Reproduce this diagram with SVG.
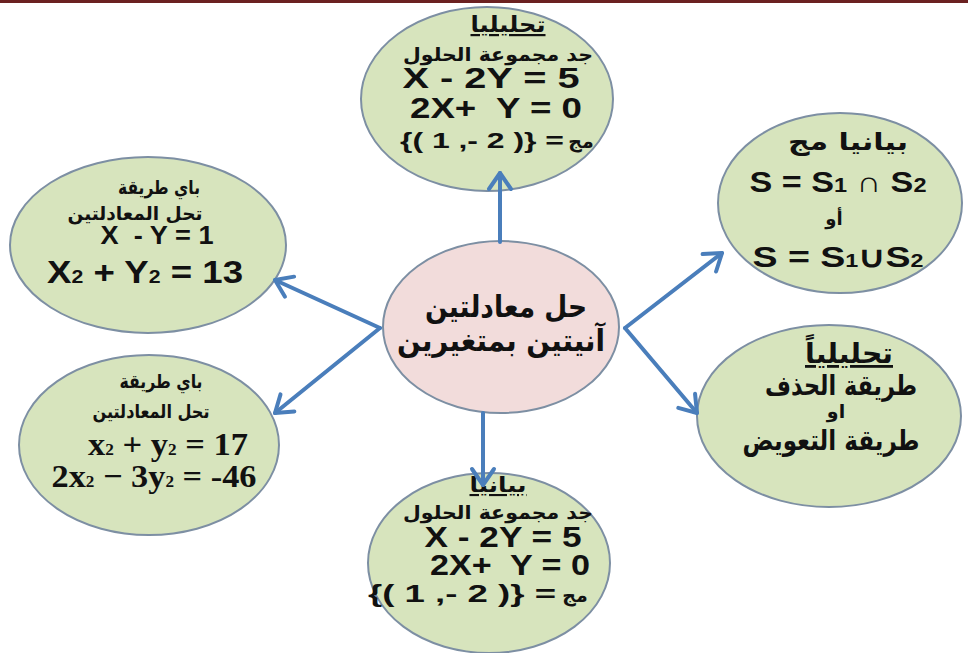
<svg xmlns="http://www.w3.org/2000/svg" width="968" height="653" viewBox="0 0 968 653">
<defs>
<style>
.g{fill:#d7e4bd;stroke:#7d8fa3;stroke-width:2}
.p{fill:#f2dcdb;stroke:#7d8fa3;stroke-width:2}
.ar{font-family:"DejaVu Sans",sans-serif;font-weight:bold;fill:#111;text-anchor:middle}
.la{font-family:"Liberation Sans",Arial,sans-serif;font-weight:bold;fill:#111;text-anchor:middle;direction:ltr}
.tm{font-family:"Liberation Serif","Times New Roman",serif;font-weight:bold;fill:#111;text-anchor:middle}
.u{text-decoration:underline}
.c{fill:none;stroke:#4a7ebb;stroke-width:4;stroke-linecap:round}
</style>
<marker id="ah" markerUnits="userSpaceOnUse" markerWidth="32" markerHeight="32" refX="21" refY="16" orient="auto">
<path d="M5,5 L21,16 L5,27" fill="none" stroke="#4a7ebb" stroke-width="4" stroke-linecap="round" stroke-linejoin="round"/>
</marker>
</defs>
<rect x="0" y="0" width="968" height="653" fill="#ffffff"/>
<rect x="0" y="0" width="968" height="3" fill="#6b2121"/>

<g id="node-top">
<ellipse class="g" cx="487" cy="99" rx="126" ry="92"/>
<text class="ar u" x="508" y="32" font-size="22" textLength="75" lengthAdjust="spacingAndGlyphs">تحليليا</text>
<text class="ar" x="498" y="61" font-size="19" textLength="190" lengthAdjust="spacingAndGlyphs">جد مجموعة الحلول</text>
<text class="la" x="491" y="88" font-size="30" textLength="177" lengthAdjust="spacingAndGlyphs">X - 2Y = 5</text>
<text class="la" x="496" y="118" font-size="30" textLength="172" lengthAdjust="spacingAndGlyphs">2X+&#160; Y = 0</text>
<text class="la" x="482" y="148" font-size="22" textLength="164" lengthAdjust="spacingAndGlyphs">{( 1 ,- 2 )} =</text>
<text class="ar" x="581" y="148" font-size="19">مج</text>
</g>

<g id="node-bottom">
<ellipse class="g" cx="489" cy="563" rx="121" ry="90"/>
<text class="ar u" x="498" y="492" font-size="21" textLength="57" lengthAdjust="spacingAndGlyphs">بيانيا</text>
<text class="ar" x="498" y="519" font-size="19" textLength="190" lengthAdjust="spacingAndGlyphs">جد مجموعة الحلول</text>
<text class="la" x="503" y="547" font-size="30" textLength="157" lengthAdjust="spacingAndGlyphs">X - 2Y = 5</text>
<text class="la" x="510" y="575" font-size="30" textLength="160" lengthAdjust="spacingAndGlyphs">2X+&#160; Y = 0</text>
<text class="la" x="462" y="602" font-size="24" textLength="188" lengthAdjust="spacingAndGlyphs">{( 1 ,- 2 )} =</text>
<text class="ar" x="575" y="602" font-size="19">مج</text>
</g>

<g id="node-right-top">
<ellipse class="g" cx="840" cy="203" rx="122" ry="90"/>
<text class="ar" x="848" y="150" font-size="24" textLength="120" lengthAdjust="spacingAndGlyphs">بيانيا مج</text>
<text class="la" x="838" y="192" font-size="29" textLength="177" lengthAdjust="spacingAndGlyphs">S = S<tspan font-size="20">1</tspan> ∩ S<tspan font-size="20">2</tspan></text>
<text class="ar" x="834" y="225" font-size="18">أو</text>
<text class="la" x="838" y="267" font-size="29" textLength="171" lengthAdjust="spacingAndGlyphs">S = S<tspan font-size="18">1</tspan>∪S<tspan font-size="18">2</tspan></text>
</g>

<g id="node-right-bottom">
<ellipse class="g" cx="829" cy="416" rx="132" ry="91"/>
<text class="ar u" x="849" y="363" font-size="28" textLength="88" lengthAdjust="spacingAndGlyphs">تحليلياً</text>
<text class="ar" x="841" y="395" font-size="28" textLength="152" lengthAdjust="spacingAndGlyphs">طريقة الحذف</text>
<text class="ar" x="836" y="418" font-size="19">او</text>
<text class="ar" x="831" y="450" font-size="28" textLength="177" lengthAdjust="spacingAndGlyphs">طريقة التعويض</text>
</g>

<g id="node-left-top">
<ellipse class="g" cx="148" cy="245" rx="138" ry="88"/>
<text class="ar" x="159" y="194" font-size="19" textLength="82" lengthAdjust="spacingAndGlyphs">باي طريقة</text>
<text class="ar" x="135" y="220" font-size="19" textLength="135" lengthAdjust="spacingAndGlyphs">تحل المعادلتين</text>
<text class="la" x="157" y="244" font-size="25" textLength="113" lengthAdjust="spacingAndGlyphs">X&#160; - Y = 1</text>
<text class="la" x="145" y="283" font-size="31" textLength="196" lengthAdjust="spacingAndGlyphs">X<tspan font-size="18">2</tspan> + Y<tspan font-size="18">2</tspan> = 13</text>
</g>

<g id="node-left-bottom">
<ellipse class="g" cx="149" cy="445" rx="130" ry="90"/>
<text class="ar" x="161" y="388" font-size="19" textLength="83" lengthAdjust="spacingAndGlyphs">باي طريقة</text>
<text class="ar" x="151" y="418" font-size="19" textLength="117" lengthAdjust="spacingAndGlyphs">تحل المعادلتين</text>
<text class="tm" x="168" y="455" font-size="32" textLength="160" lengthAdjust="spacingAndGlyphs">x<tspan font-size="16">2</tspan> + y<tspan font-size="16">2</tspan> = 17</text>
<text class="tm" x="154" y="487" font-size="32" textLength="205" lengthAdjust="spacingAndGlyphs">2x<tspan font-size="16">2</tspan> − 3y<tspan font-size="16">2</tspan> = -46</text>
</g>

<g id="node-center">
<ellipse class="p" cx="501" cy="327" rx="118" ry="86"/>
<text class="ar" x="506" y="317" font-size="30" textLength="162" lengthAdjust="spacingAndGlyphs">حل معادلتين</text>
<text class="ar" x="501" y="351" font-size="30" textLength="208" lengthAdjust="spacingAndGlyphs">آنيتين بمتغيرين</text>
</g>

<g id="connectors">
<line class="c" x1="500" y1="242" x2="500" y2="173" marker-end="url(#ah)"/>
<line class="c" x1="625" y1="328" x2="722" y2="253" marker-end="url(#ah)"/>
<line class="c" x1="625" y1="328" x2="697" y2="413" marker-end="url(#ah)"/>
<line class="c" x1="380" y1="328" x2="275" y2="280" marker-end="url(#ah)"/>
<line class="c" x1="380" y1="328" x2="275" y2="413" marker-end="url(#ah)"/>
<line class="c" x1="483" y1="413" x2="483" y2="485" marker-end="url(#ah)"/>
</g>
</svg>
